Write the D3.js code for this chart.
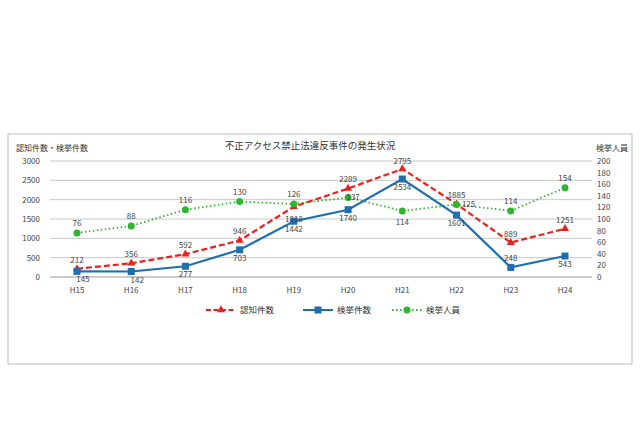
<!DOCTYPE html>
<html><head><meta charset="utf-8">
<script src="https://cdn.jsdelivr.net/npm/d3@7"></script>
<style>body{margin:0;background:#fff}svg{font-family:"Noto Sans CJK JP",sans-serif}</style>
</head><body><svg id="c" width="640" height="426"></svg>
<script>
const categories = ["H15","H16","H17","H18","H19","H20","H21","H22","H23","H24"]
const ninchi = [212,356,592,946,1818,2289,2795,1885,889,1251]
const kenkyo = [145,142,277,703,1442,1740,2534,1601,248,543]
const jinin = [76,88,116,130,126,137,114,125,114,154]
const leftTicks = [0,500,1000,1500,2000,2500,3000]
const rightTicks = [0,20,40,60,80,100,120,140,160,180,200]

const svg = d3.select("#c")
svg.append("rect").attr("x", 8).attr("y", 134).attr("width", 624).attr("height", 230)
  .attr("fill", "none").attr("stroke", "#bbb")

const x = d3.scalePoint().domain(categories).range([77, 565]).padding(0)
const yL = d3.scaleLinear().domain([0, 3000]).range([277, 161])
const yR = d3.scaleLinear().domain([0, 200]).range([277, 161])
const x0 = 50, x1 = 592

// Gridlines
svg.append("g").selectAll("line").data(leftTicks).enter().append("line")
  .attr("x1", x0).attr("x2", x1).attr("y1", d => yL(d)).attr("y2", d => yL(d))
  .attr("stroke", d => d === 0 ? "#999" : "#c8c8c8")

svg.append("g").selectAll("text").data(leftTicks).enter().append("text")
  .attr("x", 40).attr("y", d => yL(d) + 3).attr("text-anchor", "end")
  .attr("fill", "#444").attr("font-size", "8px").text(d => d)
svg.append("g").selectAll("text").data(rightTicks).enter().append("text")
  .attr("x", 597).attr("y", d => yR(d) + 3)
  .attr("fill", "#444").attr("font-size", "8px").text(d => d)
svg.append("g").selectAll("text").data(categories).enter().append("text")
  .attr("x", d => x(d)).attr("y", 293).attr("text-anchor", "middle")
  .attr("fill", "#444").attr("font-size", "8px").text(d => d)

svg.append("text").attr("x", 310).attr("y", 149).attr("text-anchor", "middle")
  .attr("font-size", "9.5px").attr("fill", "#333").text("不正アクセス禁止法違反事件の発生状況")
svg.append("text").attr("x", 16).attr("y", 151).attr("font-size", "8px").attr("fill", "#333").text("認知件数・検挙件数")
svg.append("text").attr("x", 628).attr("y", 151).attr("text-anchor", "end").attr("font-size", "8px").attr("fill", "#333").text("検挙人員")

const RED = "#e8231f", BLUE = "#1f6fb0", GREEN = "#2fb52f"
const line = y => d3.line().x((d, i) => x(categories[i])).y(d => y(d))

svg.append("path").datum(jinin).attr("d", line(yR)).attr("fill", "none")
  .attr("stroke", GREEN).attr("stroke-width", 1.8).attr("stroke-dasharray", "1.5,2.5")
svg.append("path").datum(ninchi).attr("d", line(yL)).attr("fill", "none")
  .attr("stroke", RED).attr("stroke-width", 2.2).attr("stroke-dasharray", "6,3")
svg.append("path").datum(kenkyo).attr("d", line(yL)).attr("fill", "none")
  .attr("stroke", BLUE).attr("stroke-width", 2.2)

const tri = d3.symbol().type(d3.symbolTriangle).size(28)
svg.append("g").selectAll("path").data(ninchi).enter().append("path")
  .attr("d", tri).attr("fill", RED)
  .attr("transform", (d, i) => `translate(${x(categories[i])},${yL(d)})`)
svg.append("g").selectAll("rect").data(kenkyo).enter().append("rect")
  .attr("x", (d, i) => x(categories[i]) - 3.5).attr("y", d => yL(d) - 3.5)
  .attr("width", 7).attr("height", 7).attr("fill", BLUE)
svg.append("g").selectAll("circle").data(jinin).enter().append("circle")
  .attr("cx", (d, i) => x(categories[i])).attr("cy", d => yR(d)).attr("r", 3.5).attr("fill", GREEN)

// Data labels
const lbl = (data, y, dy, dx) => svg.append("g").selectAll("text").data(data).enter().append("text")
  .attr("x", (d, i) => x(categories[i]) + (dx ? dx[i] : 0)).attr("y", (d, i) => y(d) + dy[i])
  .attr("text-anchor", "middle").attr("fill", "#444").attr("font-size", "8px").text(d => d)
lbl(ninchi, yL, [-6,-6,-6,-6,15,-6,-5,-6,-6,-6])
lbl(kenkyo, yL, [11,11,11,11,11,11,11,11,-6,11], [6,6,0,0,0,0,0,0,0,0])
lbl(jinin, yR, [-7,-7,-7,-7,-7,2,14,2,-7,-7], [0,0,0,0,0,5,0,12,0,0])

// Legend
const leg = svg.append("g").attr("font-size", "8.5px").attr("fill", "#333")
const items = [
  { x: 206, c: RED, dash: "5,2.5", t: "認知件数", m: "tri" },
  { x: 303, c: BLUE, dash: null, t: "検挙件数", m: "sq" },
  { x: 392, c: GREEN, dash: "1.5,2.5", t: "検挙人員", m: "ci" }
]
items.forEach(it => {
  leg.append("line").attr("x1", it.x).attr("x2", it.x + 30).attr("y1", 310).attr("y2", 310)
    .attr("stroke", it.c).attr("stroke-width", 2).attr("stroke-dasharray", it.dash)
  const cx = it.x + 15
  if (it.m === "tri") leg.append("path").attr("d", tri).attr("fill", it.c).attr("transform", `translate(${cx},310)`)
  if (it.m === "sq") leg.append("rect").attr("x", cx - 3.5).attr("y", 306.5).attr("width", 7).attr("height", 7).attr("fill", it.c)
  if (it.m === "ci") leg.append("circle").attr("cx", cx).attr("cy", 310).attr("r", 3.5).attr("fill", it.c)
  leg.append("text").attr("x", it.x + 34).attr("y", 313).text(it.t)
})
</script></body></html>
